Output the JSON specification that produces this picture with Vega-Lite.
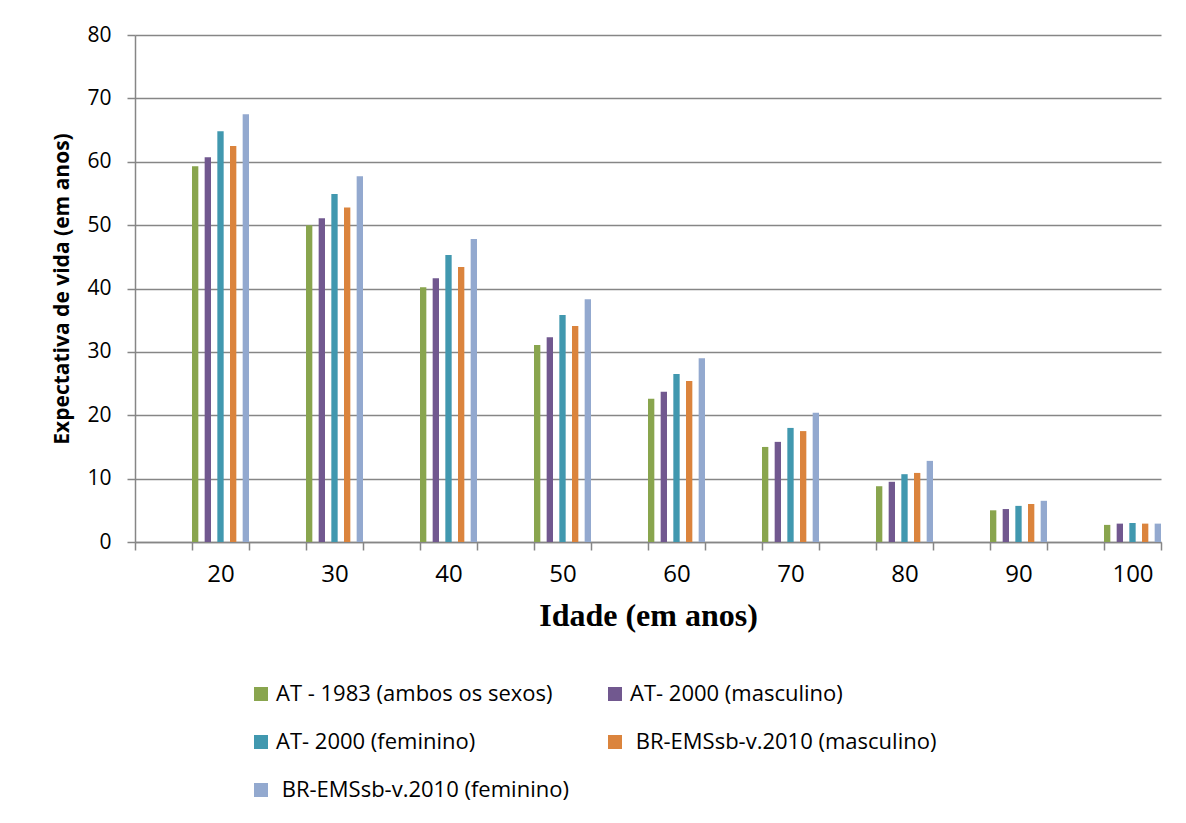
{
  "$schema": "https://vega.github.io/schema/vega-lite/v6.json",
  "autosize": {"type": "none"},
  "width": 1026,
  "height": 507,
  "padding": {"left": 135, "top": 35, "right": 25, "bottom": 281},
  "background": "white",
  "config": {
    "view": {"stroke": null},
    "font": "Open Sans"
  },
  "data": {
    "values": [
      {"idade": 20, "serie": "AT - 1983 (ambos os sexos)", "valor": 59.3},
      {"idade": 20, "serie": "AT- 2000 (masculino)", "valor": 60.7},
      {"idade": 20, "serie": "AT- 2000 (feminino)", "valor": 64.8},
      {"idade": 20, "serie": "BR-EMSsb-v.2010 (masculino)", "valor": 62.5},
      {"idade": 20, "serie": "BR-EMSsb-v.2010 (feminino)", "valor": 67.5},
      {"idade": 30, "serie": "AT - 1983 (ambos os sexos)", "valor": 50.0},
      {"idade": 30, "serie": "AT- 2000 (masculino)", "valor": 51.1},
      {"idade": 30, "serie": "AT- 2000 (feminino)", "valor": 54.9},
      {"idade": 30, "serie": "BR-EMSsb-v.2010 (masculino)", "valor": 52.8},
      {"idade": 30, "serie": "BR-EMSsb-v.2010 (feminino)", "valor": 57.7},
      {"idade": 40, "serie": "AT - 1983 (ambos os sexos)", "valor": 40.2},
      {"idade": 40, "serie": "AT- 2000 (masculino)", "valor": 41.6},
      {"idade": 40, "serie": "AT- 2000 (feminino)", "valor": 45.3},
      {"idade": 40, "serie": "BR-EMSsb-v.2010 (masculino)", "valor": 43.4},
      {"idade": 40, "serie": "BR-EMSsb-v.2010 (feminino)", "valor": 47.8},
      {"idade": 50, "serie": "AT - 1983 (ambos os sexos)", "valor": 31.1},
      {"idade": 50, "serie": "AT- 2000 (masculino)", "valor": 32.3},
      {"idade": 50, "serie": "AT- 2000 (feminino)", "valor": 35.8},
      {"idade": 50, "serie": "BR-EMSsb-v.2010 (masculino)", "valor": 34.1},
      {"idade": 50, "serie": "BR-EMSsb-v.2010 (feminino)", "valor": 38.3},
      {"idade": 60, "serie": "AT - 1983 (ambos os sexos)", "valor": 22.6},
      {"idade": 60, "serie": "AT- 2000 (masculino)", "valor": 23.7},
      {"idade": 60, "serie": "AT- 2000 (feminino)", "valor": 26.5},
      {"idade": 60, "serie": "BR-EMSsb-v.2010 (masculino)", "valor": 25.4},
      {"idade": 60, "serie": "BR-EMSsb-v.2010 (feminino)", "valor": 29.0},
      {"idade": 70, "serie": "AT - 1983 (ambos os sexos)", "valor": 15.0},
      {"idade": 70, "serie": "AT- 2000 (masculino)", "valor": 15.8},
      {"idade": 70, "serie": "AT- 2000 (feminino)", "valor": 18.0},
      {"idade": 70, "serie": "BR-EMSsb-v.2010 (masculino)", "valor": 17.5},
      {"idade": 70, "serie": "BR-EMSsb-v.2010 (feminino)", "valor": 20.4},
      {"idade": 80, "serie": "AT - 1983 (ambos os sexos)", "valor": 8.8},
      {"idade": 80, "serie": "AT- 2000 (masculino)", "valor": 9.5},
      {"idade": 80, "serie": "AT- 2000 (feminino)", "valor": 10.7},
      {"idade": 80, "serie": "BR-EMSsb-v.2010 (masculino)", "valor": 10.9},
      {"idade": 80, "serie": "BR-EMSsb-v.2010 (feminino)", "valor": 12.8},
      {"idade": 90, "serie": "AT - 1983 (ambos os sexos)", "valor": 5.0},
      {"idade": 90, "serie": "AT- 2000 (masculino)", "valor": 5.2},
      {"idade": 90, "serie": "AT- 2000 (feminino)", "valor": 5.7},
      {"idade": 90, "serie": "BR-EMSsb-v.2010 (masculino)", "valor": 6.0},
      {"idade": 90, "serie": "BR-EMSsb-v.2010 (feminino)", "valor": 6.5},
      {"idade": 100, "serie": "AT - 1983 (ambos os sexos)", "valor": 2.7},
      {"idade": 100, "serie": "AT- 2000 (masculino)", "valor": 2.9},
      {"idade": 100, "serie": "AT- 2000 (feminino)", "valor": 3.0},
      {"idade": 100, "serie": "BR-EMSsb-v.2010 (masculino)", "valor": 2.9},
      {"idade": 100, "serie": "BR-EMSsb-v.2010 (feminino)", "valor": 2.9}
    ]
  },
  "mark": {"type": "bar"},
  "encoding": {
    "x": {
      "field": "idade",
      "type": "ordinal",
      "scale": {
        "domain": [15, 20, 25, 30, 35, 40, 45, 50, 55, 60, 65, 70, 75, 80, 85, 90, 95, 100],
        "paddingInner": 0,
        "paddingOuter": 0
      },
      "axis": {
        "title": "Idade (em anos)",
        "titleFont": "Liberation Serif",
        "titleFontSize": 32,
        "titleFontWeight": "bold",
        "titleColor": "black",
        "titlePadding": 14,
        "labelExpr": "datum.value % 10 == 0 ? datum.label : ''",
        "labelAngle": 0,
        "labelFont": "Open Sans",
        "labelFontSize": 24,
        "labelColor": "black",
        "labelPadding": 12,
        "tickBand": "extent",
        "tickSize": 8,
        "tickColor": "#868686",
        "tickWidth": 1.5,
        "domainColor": "#868686",
        "domainWidth": 1.5,
        "grid": false
      }
    },
    "xOffset": {
      "field": "serie",
      "type": "nominal",
      "sort": ["AT - 1983 (ambos os sexos)", "AT- 2000 (masculino)", "AT- 2000 (feminino)", "BR-EMSsb-v.2010 (masculino)", "BR-EMSsb-v.2010 (feminino)"],
      "scale": {"paddingInner": 0.5, "paddingOuter": 0}
    },
    "y": {
      "field": "valor",
      "type": "quantitative",
      "scale": {"domain": [0, 80], "nice": false},
      "axis": {
        "title": "Expectativa de vida (em anos)",
        "titleFont": "Open Sans",
        "titleFontSize": 21,
        "titleFontWeight": "bold",
        "titleColor": "black",
        "titlePadding": 14,
        "values": [0, 10, 20, 30, 40, 50, 60, 70, 80],
        "labelFont": "Open Sans",
        "labelFontSize": 21,
        "labelColor": "black",
        "labelPadding": 16,
        "tickSize": 8,
        "tickColor": "#868686",
        "tickWidth": 1.5,
        "domainColor": "#868686",
        "domainWidth": 1.5,
        "grid": true,
        "gridColor": "#868686",
        "gridWidth": 1.5
      }
    },
    "color": {
      "field": "serie",
      "type": "nominal",
      "sort": ["AT - 1983 (ambos os sexos)", "AT- 2000 (masculino)", "AT- 2000 (feminino)", "BR-EMSsb-v.2010 (masculino)", "BR-EMSsb-v.2010 (feminino)"],
      "scale": {
        "domain": ["AT - 1983 (ambos os sexos)", "AT- 2000 (masculino)", "AT- 2000 (feminino)", "BR-EMSsb-v.2010 (masculino)", "BR-EMSsb-v.2010 (feminino)"],
        "range": ["#89A54E", "#71588F", "#4198AF", "#DB843D", "#93A9CF"]
      },
      "legend": {
        "title": null,
        "orient": "none",
        "legendX": 115,
        "legendY": 648,
        "direction": "horizontal",
        "columns": 2,
        "symbolType": "square",
        "symbolSize": 196,
        "symbolStrokeWidth": 0,
        "symbolOpacity": 1,
        "labelFont": "Open Sans",
        "labelFontSize": 22,
        "labelColor": "black",
        "labelOffset": 4,
        "labelLimit": 500,
        "rowPadding": 26,
        "columnPadding": 35,
        "labelExpr": "indexof(datum.label, 'BR') == 0 ? '\u200b\u00a0' + datum.label : datum.label"
      }
    }
  }
}
